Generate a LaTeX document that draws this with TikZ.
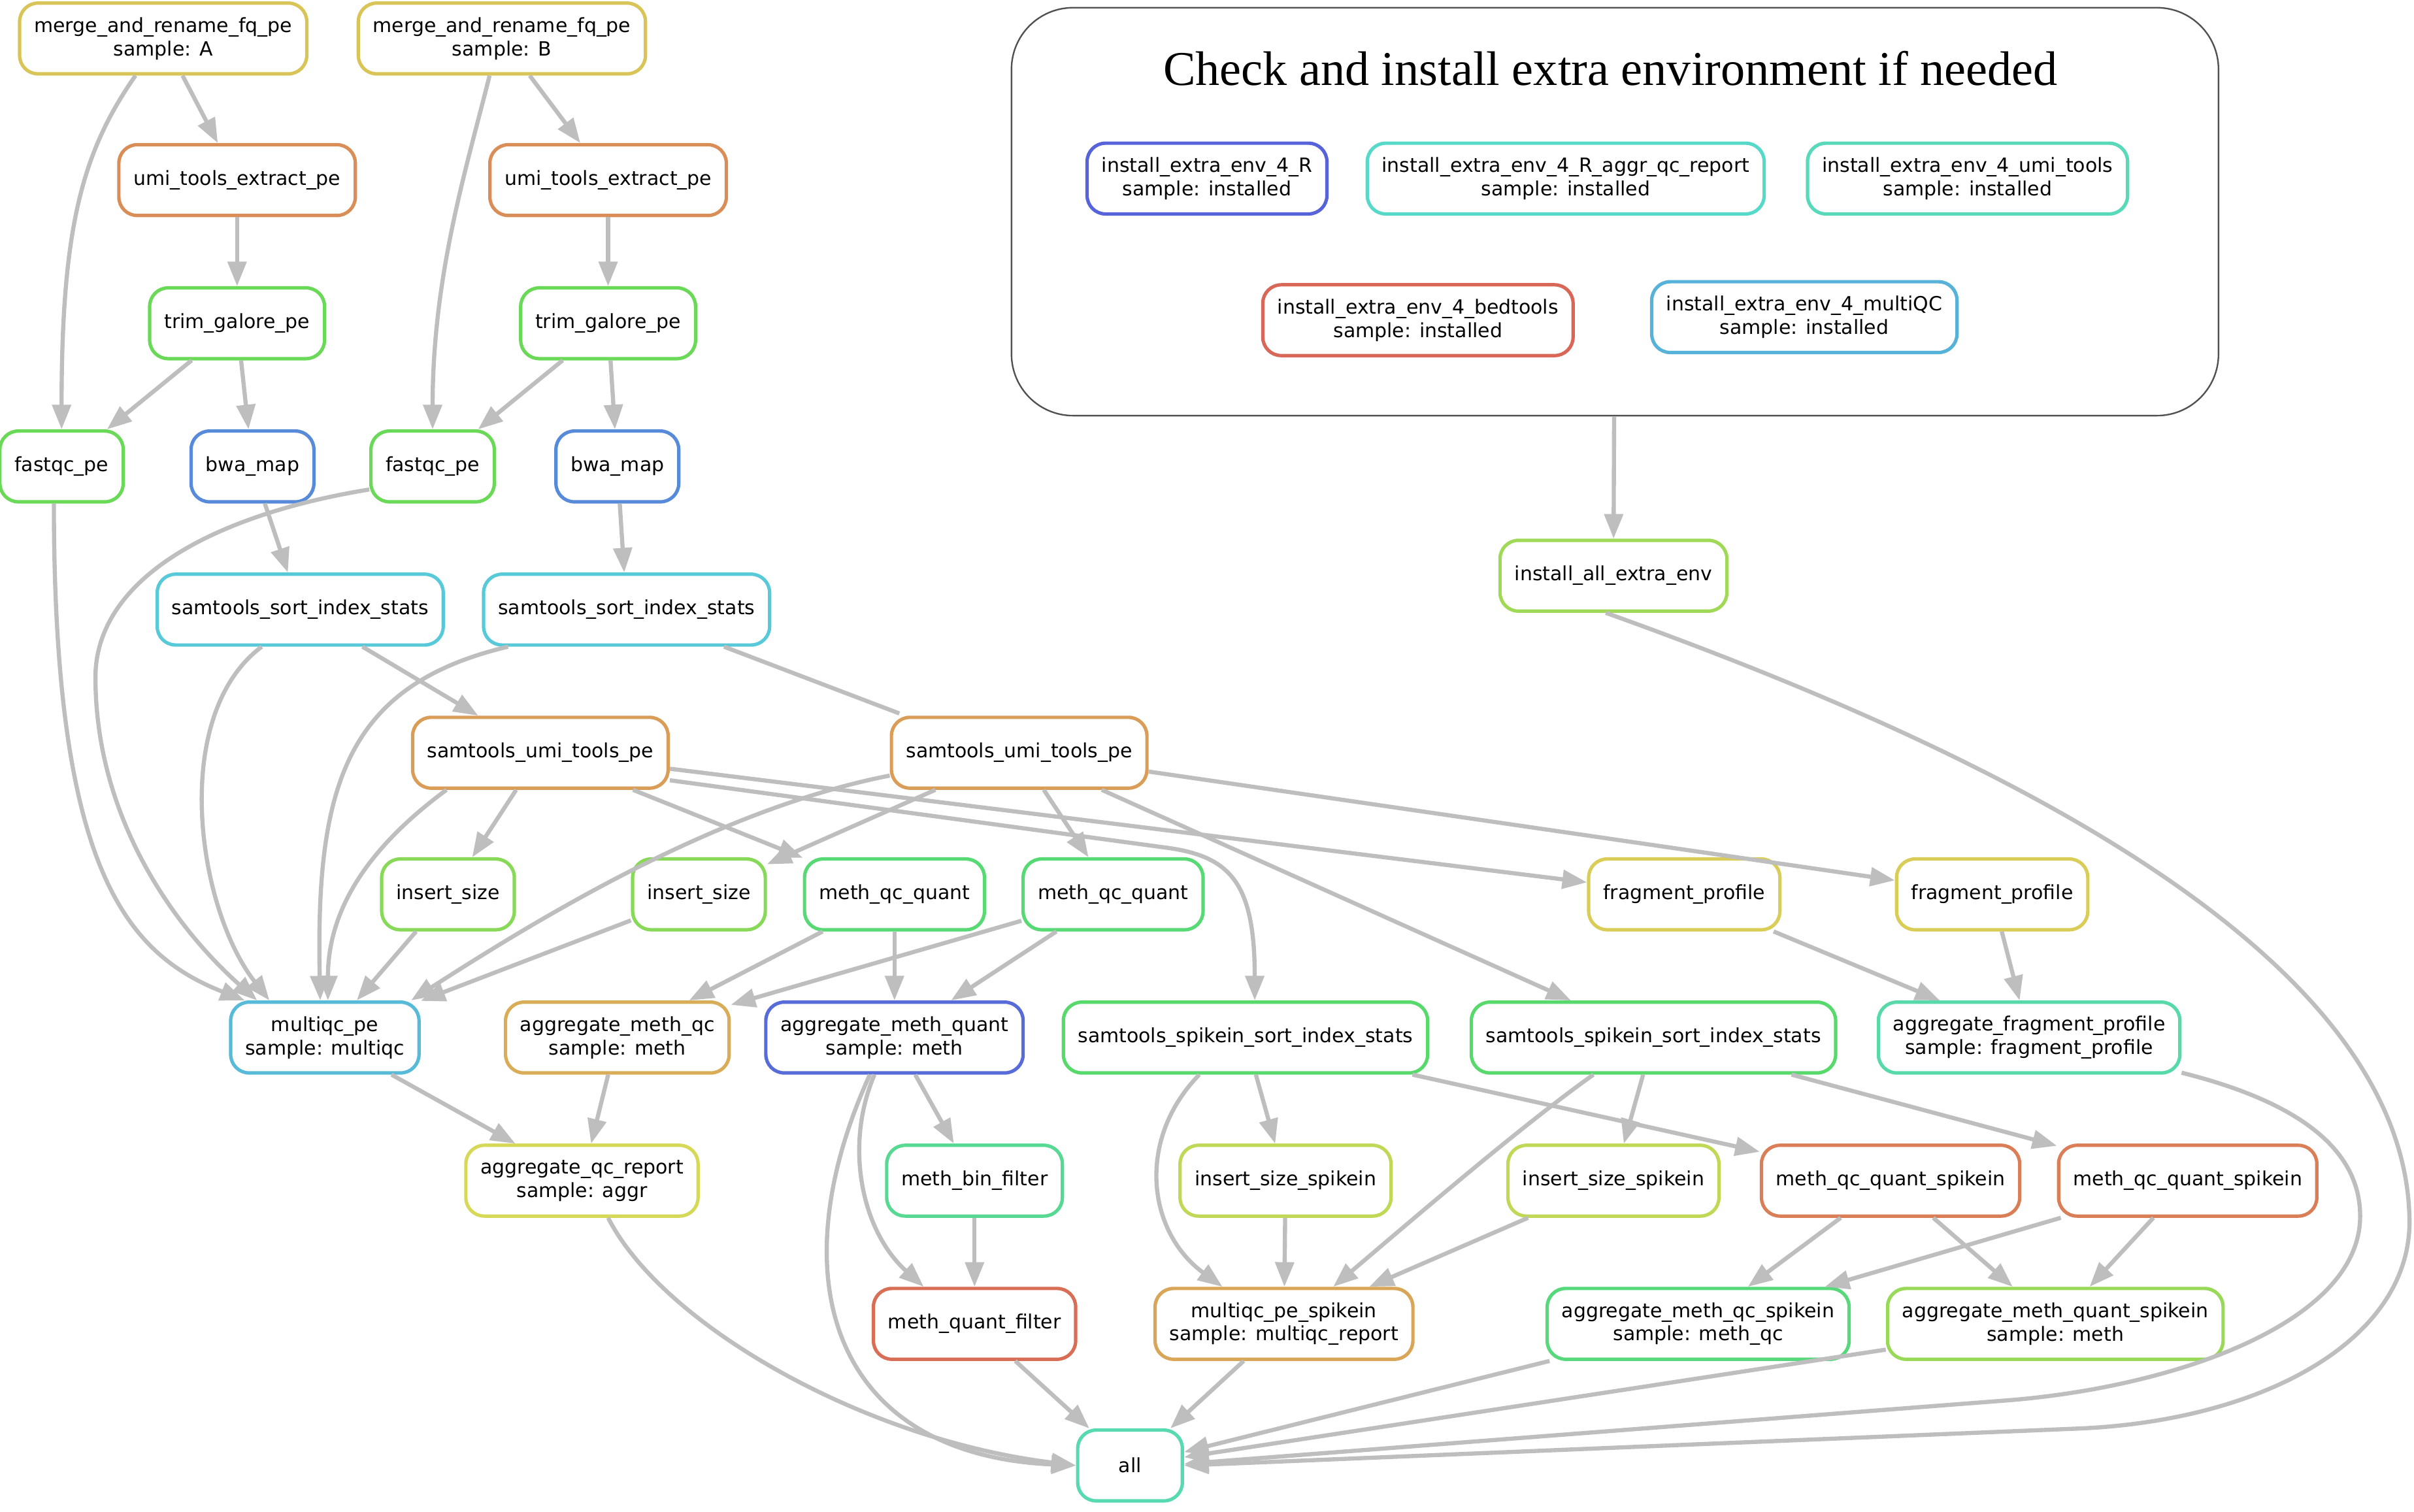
\documentclass[tikz,border=0pt]{standalone}
\usepackage{fontspec}
\newfontfamily\rulefont{DejaVu Sans}
\newfontfamily\titlefont{Liberation Serif}
\usetikzlibrary{arrows.meta}

\definecolor{edgegrey}{RGB}{190,190,190}
\definecolor{clustergrey}{RGB}{80,80,80}
\definecolor{colmerge}{RGB}{217,196,87}
\definecolor{columiext}{RGB}{217,142,87}
\definecolor{coltrim}{RGB}{105,217,87}
\definecolor{colbwa}{RGB}{87,139,217}
\definecolor{colsort}{RGB}{87,201,217}
\definecolor{colsamumi}{RGB}{217,157,87}
\definecolor{colinsert}{RGB}{136,217,87}
\definecolor{colmethqc}{RGB}{87,217,116}
\definecolor{colfrag}{RGB}{217,204,87}
\definecolor{colmultiqc}{RGB}{87,186,217}
\definecolor{colaggqc}{RGB}{217,173,87}
\definecolor{colaggquant}{RGB}{87,108,217}
\definecolor{colspikein}{RGB}{87,217,108}
\definecolor{colaggfrag}{RGB}{87,217,170}
\definecolor{colaggreport}{RGB}{214,217,87}
\definecolor{colbin}{RGB}{87,217,147}
\definecolor{colinsertspk}{RGB}{191,217,87}
\definecolor{colmethspk}{RGB}{217,126,87}
\definecolor{colquantfilter}{RGB}{217,110,87}
\definecolor{colmultispk}{RGB}{217,165,87}
\definecolor{colaggqcspk}{RGB}{87,217,123}
\definecolor{colaggquantspk}{RGB}{152,217,87}
\definecolor{colall}{RGB}{87,217,178}
\definecolor{colenvR}{RGB}{87,100,217}
\definecolor{colenvRaggr}{RGB}{87,217,201}
\definecolor{colenvumi}{RGB}{87,217,186}
\definecolor{colenvbed}{RGB}{217,103,87}
\definecolor{colenvmqc}{RGB}{87,178,217}
\definecolor{colenvall}{RGB}{160,217,87}

\begin{document}
\begin{tikzpicture}[x=1pt,y=-1pt]

\tikzstyle{rule}=[draw,rounded corners=12pt,line width=2.2pt,inner xsep=9.5pt,inner ysep=0pt,minimum height=46pt,align=center,font=\rulefont\fontsize{12.7}{15.2}\selectfont]
\tikzstyle{edge} = [draw=edgegrey,line width=2.7pt,-{Triangle[length=16pt,width=12pt]}]
\tikzstyle{cluster} = [draw=clustergrey,line width=1pt,rounded corners=40pt,inner sep=0pt]

\useasboundingbox (0,0) rectangle (1568,982);

% extra environments
\node[cluster,minimum width=784pt,minimum height=265pt] (envbox) at (1049,137.5) {};
\node[font=\titlefont\fontsize{31.5}{36}\selectfont] (envtitle) at (1046,44.5) {Check and install extra environment if needed};
\node[rule,draw=colenvR] (ieR) at (784,116) {install\_extra\_env\_4\_R\\sample: installed};
\node[rule,draw=colenvRaggr] (ieRaggr) at (1017,116) {install\_extra\_env\_4\_R\_aggr\_qc\_report\\sample: installed};
\node[rule,draw=colenvumi] (ieumi) at (1278,116) {install\_extra\_env\_4\_umi\_tools\\sample: installed};
\node[rule,draw=colenvbed] (iebed) at (921,208) {install\_extra\_env\_4\_bedtools\\sample: installed};
\node[rule,draw=colenvmqc] (iemqc) at (1172,206) {install\_extra\_env\_4\_multiQC\\sample: installed};
\node[rule,draw=colenvall] (iea) at (1048,374) {install\_all\_extra\_env};

% samples
\node[rule,draw=colmerge] (mA) at (106,25) {merge\_and\_rename\_fq\_pe\\sample: A};
\node[rule,draw=colmerge] (mB) at (326,25) {merge\_and\_rename\_fq\_pe\\sample: B};
\node[rule,draw=columiext] (uA) at (154,117) {umi\_tools\_extract\_pe};
\node[rule,draw=columiext] (uB) at (395,117) {umi\_tools\_extract\_pe};
\node[rule,draw=coltrim] (tA) at (154,210) {trim\_galore\_pe};
\node[rule,draw=coltrim] (tB) at (395,210) {trim\_galore\_pe};
\node[rule,draw=coltrim] (fA) at (40,303) {fastqc\_pe};
\node[rule,draw=colbwa] (bA) at (164,303) {bwa\_map};
\node[rule,draw=coltrim] (fB) at (281,303) {fastqc\_pe};
\node[rule,draw=colbwa] (bB) at (401,303) {bwa\_map};
\node[rule,draw=colsort] (sA) at (195,396) {samtools\_sort\_index\_stats};
\node[rule,draw=colsort] (sB) at (407,396) {samtools\_sort\_index\_stats};
\node[rule,draw=colsamumi] (uA2) at (351,489) {samtools\_umi\_tools\_pe};
\node[rule,draw=colsamumi] (uB2) at (662,489) {samtools\_umi\_tools\_pe};

\node[rule,draw=colinsert] (isA) at (291,581) {insert\_size};
\node[rule,draw=colinsert] (isB) at (454,581) {insert\_size};
\node[rule,draw=colmethqc] (mqA) at (581,581) {meth\_qc\_quant};
\node[rule,draw=colmethqc] (mqB) at (723,581) {meth\_qc\_quant};
\node[rule,draw=colfrag] (fpA) at (1094,581) {fragment\_profile};
\node[rule,draw=colfrag] (fpB) at (1294,581) {fragment\_profile};

\node[rule,draw=colmultiqc] (mqc) at (211,674) {multiqc\_pe\\sample: multiqc};
\node[rule,draw=colaggqc] (amqc) at (401,674) {aggregate\_meth\_qc\\sample: meth};
\node[rule,draw=colaggquant] (amq) at (581,674) {aggregate\_meth\_quant\\sample: meth};
\node[rule,draw=colspikein] (ssA) at (809,674) {samtools\_spikein\_sort\_index\_stats};
\node[rule,draw=colspikein] (ssB) at (1074,674) {samtools\_spikein\_sort\_index\_stats};
\node[rule,draw=colaggfrag] (afp) at (1318,674) {aggregate\_fragment\_profile\\sample: fragment\_profile};

\node[rule,draw=colaggreport] (aqr) at (378,767) {aggregate\_qc\_report\\sample: aggr};
\node[rule,draw=colbin] (mbf) at (633,767) {meth\_bin\_filter};
\node[rule,draw=colinsertspk] (isSA) at (835,767) {insert\_size\_spikein};
\node[rule,draw=colinsertspk] (isSB) at (1048,767) {insert\_size\_spikein};
\node[rule,draw=colmethspk] (mqsA) at (1228,767) {meth\_qc\_quant\_spikein};
\node[rule,draw=colmethspk] (mqsB) at (1421,767) {meth\_qc\_quant\_spikein};

\node[rule,draw=colquantfilter] (mqf) at (633,860) {meth\_quant\_filter};
\node[rule,draw=colmultispk] (mps) at (834,860) {multiqc\_pe\_spikein\\sample: multiqc\_report};
\node[rule,draw=colaggqcspk] (amqs) at (1103,860) {aggregate\_meth\_qc\_spikein\\sample: meth\_qc};
\node[rule,draw=colaggquantspk] (amqts) at (1335,860) {aggregate\_meth\_quant\_spikein\\sample: meth};

\node[rule,draw=colall,minimum width=68pt] (all) at (734,952) {all};

% straight edges
\foreach \source/\dest in {mA/uA, mB/uB, uA/tA, uB/tB, tA/fA, tA/bA, tB/fB, tB/bB, bA/sA, bB/sB,
  sA/uA2, uA2/isA, uA2/mqA, uA2/fpA, uB2/isB, uB2/mqB, uB2/ssB, uB2/fpB, isA/mqc, isB/mqc,
  mqA/amqc, mqA/amq, mqB/amqc, mqB/amq, mqc/aqr, amqc/aqr, amq/mbf, mbf/mqf, ssA/isSA, ssA/mqsA,
  ssB/isSB, ssB/mqsB, isSA/mps, isSB/mps, fpA/afp, fpB/afp, mqsA/amqs, mqsA/amqts, mqsB/amqs,
  mqsB/amqts, mqf/all, mps/all, amqs/all, amqts/all, envbox/iea}
{
  \path[edge] (\source) -- (\dest);
}
\path[draw=edgegrey,line width=2.7pt,shorten >=4pt] (sB) -- ([xshift=10]uB2.north west);

% curved edges
\path[edge] ([xshift=-18]mA.south) .. controls +(-35,50) and +(0,-130) .. (fA.north);
\path[edge] ([xshift=-8]mB.south) .. controls +(-15,60) and +(0,-100) .. (fB.north);
\path[edge] ([xshift=-5]fA.south) .. controls +(0,234) and +(-79,-31) .. ([xshift=-52]mqc.north);
\path[edge] (fB.-160) .. controls (130,336) and (62,380) .. (62,440)
  .. controls (62,530) and (112,601) .. ([xshift=-44]mqc.north);
\path[edge] ([xshift=-25]sA.south) .. controls (110,465) and (128,590) .. ([xshift=-36]mqc.north);
\path[edge] ([xshift=-77]sB.south) .. controls (225,445) and (205,510) .. ([xshift=-3]mqc.north);
\path[edge] ([xshift=-61]uA2.south) .. controls (240,550) and (213,590) .. ([xshift=2]mqc.north);
\path[edge] (uB2.-170) .. controls (470,525) and (360,590) .. ([xshift=56]mqc.north);
\path[edge] (uA2.-12) -- (760,551) .. controls (800,557) and (815,575) .. ([xshift=6]ssA.north);
\path[edge] ([xshift=-13]amq.south) .. controls (548,745) and (560,800) .. ([xshift=-33]mqf.north);
\path[edge] ([xshift=-16]amq.south) .. controls (505,830) and (540,945) .. (all.west);
\path[edge] ([xshift=17]aqr.south) .. controls (430,860) and (560,935) .. (all.west);
\path[edge] ([xshift=-30]ssA.south) .. controls (738,740) and (745,800) .. ([xshift=-40]mps.north);
\path[edge] ([xshift=-39]ssB.south) .. controls (990,730) and (920,790) .. ([xshift=32]mps.north);
\path[edge] (afp.-13) .. controls (1490,715) and (1533,745) .. (1533,790)
  .. controls (1533,860) and (1410,902) .. (1300,910) -- ([yshift=1]all.east);
\path[edge] ([xshift=-5]iea.south) .. controls (1300,490) and (1560,620) .. (1565,790)
  .. controls (1568,870) and (1470,923) .. (1350,928) -- (all.east);
\end{tikzpicture}
\end{document}
